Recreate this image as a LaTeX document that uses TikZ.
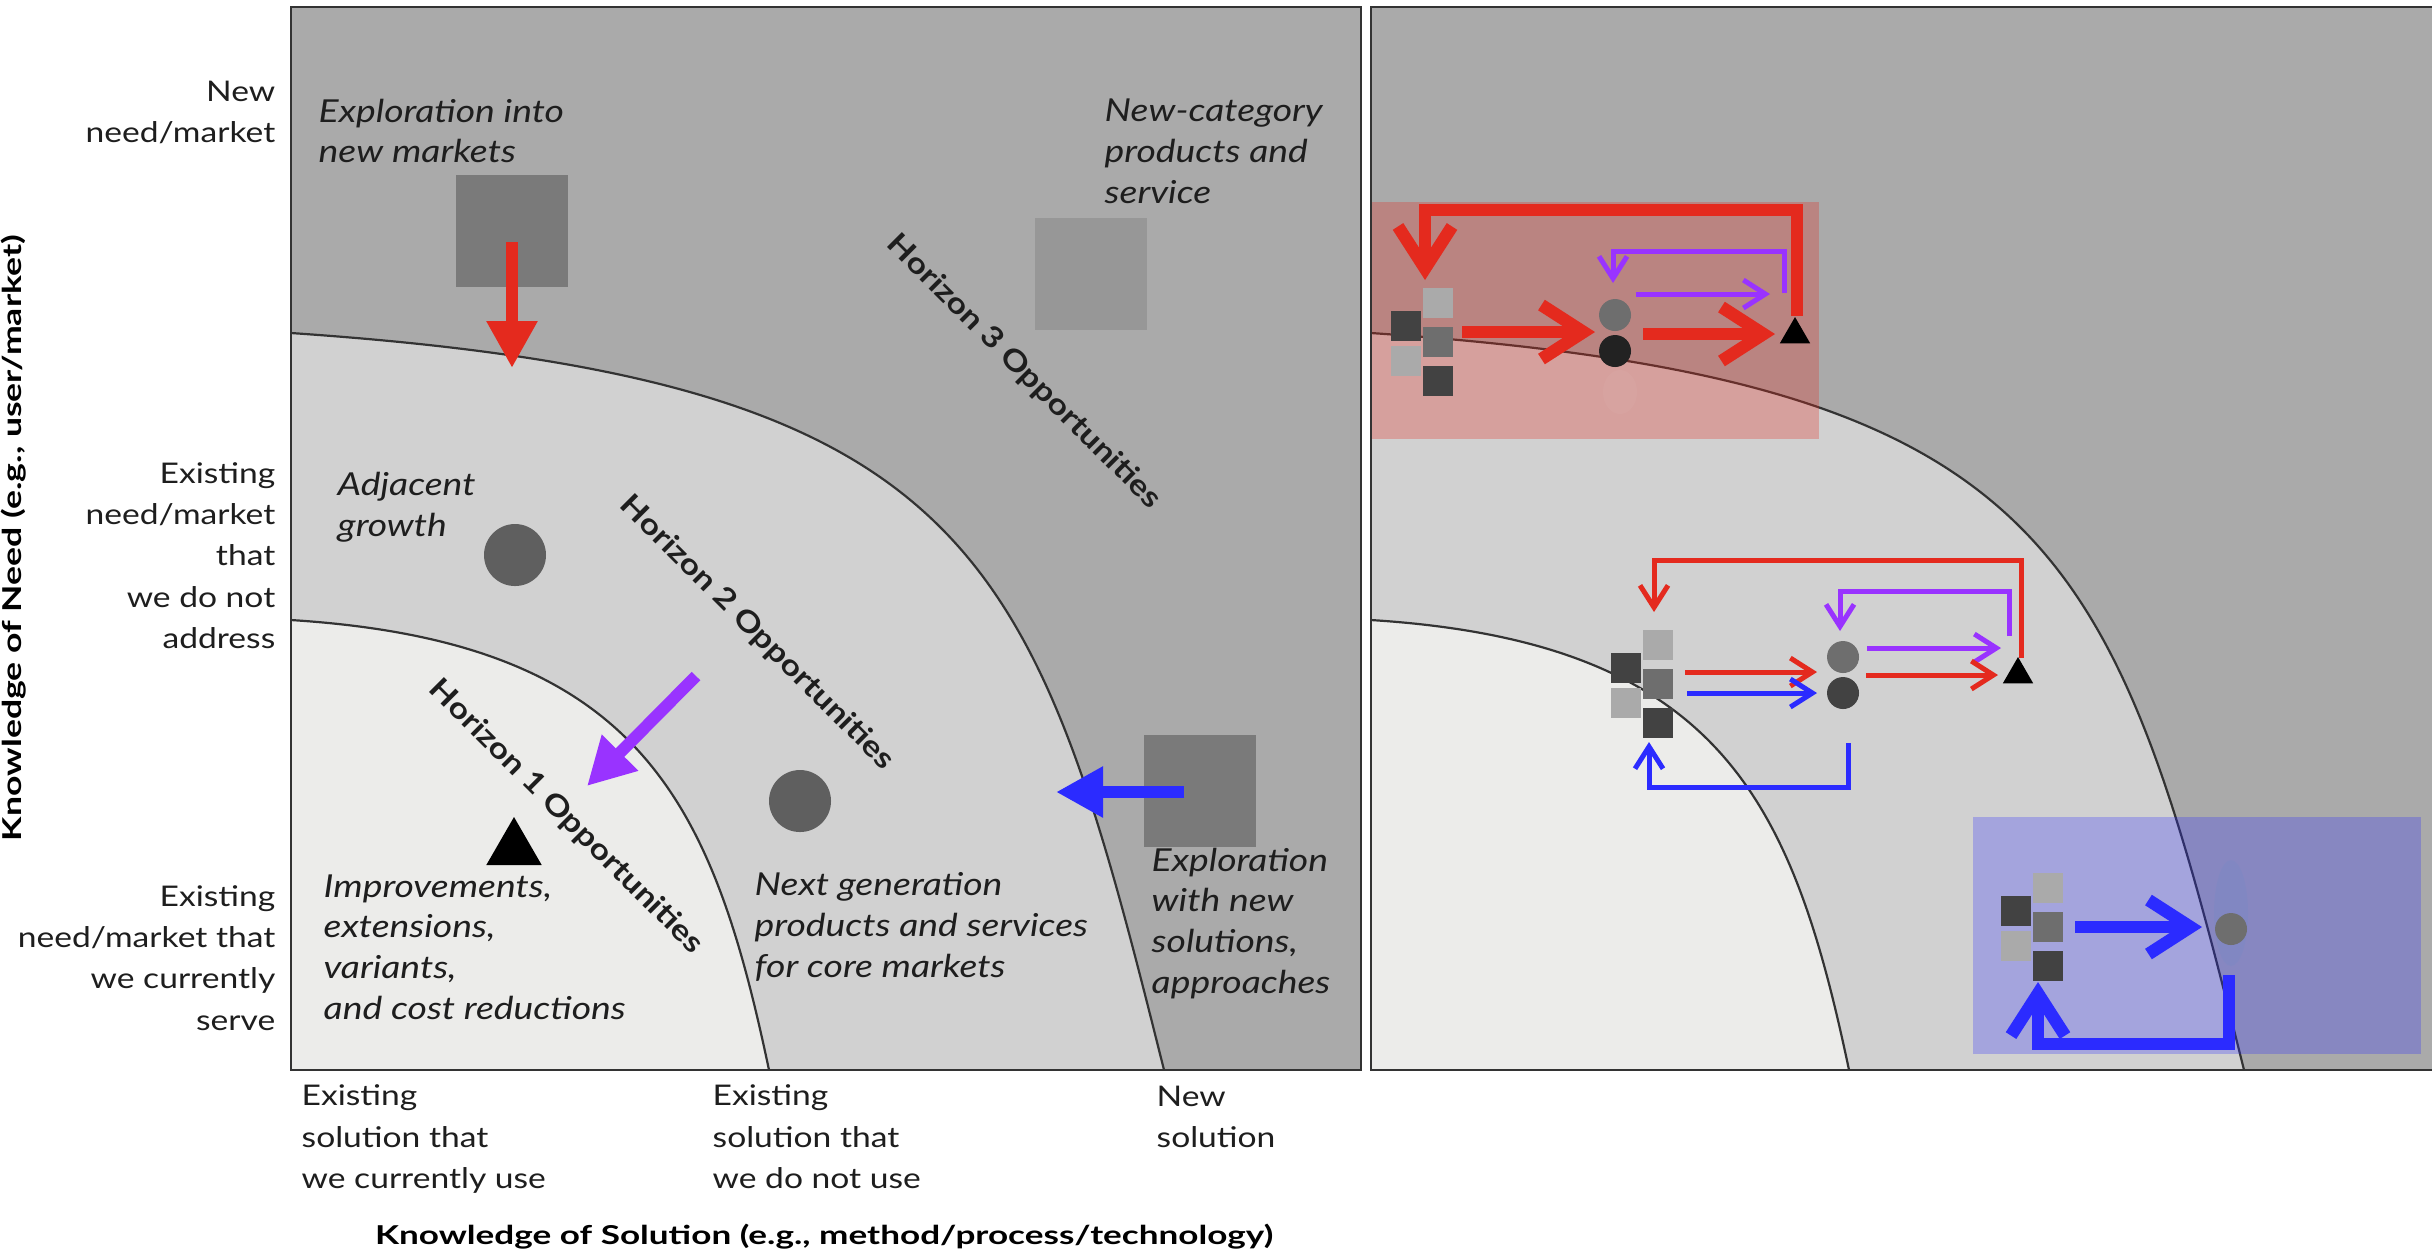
\documentclass[tikz,border=0pt]{standalone}
\usepackage{fontspec}
\setmainfont{Lato}[FakeStretch=1.18]
\usepackage{graphicx}
\usetikzlibrary{arrows.meta,shapes.geometric}
\definecolor{bgdark}{HTML}{AAAAAA}
\definecolor{bgmid}{HTML}{D1D1D1}
\definecolor{bglight}{HTML}{ECECEA}
\definecolor{edge}{HTML}{333333}
\definecolor{sqbig}{HTML}{7A7A7A}
\definecolor{sqpale}{HTML}{979797}
\definecolor{dotgray}{HTML}{5F5F5F}
\definecolor{kdark}{HTML}{424242}
\definecolor{kmid}{HTML}{6E6E6E}
\definecolor{klight}{HTML}{AAAAAA}
\definecolor{kblack}{HTML}{222222}
\definecolor{ared}{HTML}{E42A1E}
\definecolor{apurple}{HTML}{9933FF}
\definecolor{ablue}{HTML}{2B2BFF}
\definecolor{txt}{HTML}{1E1E1E}
\definecolor{ghost}{HTML}{6A8AC8}

\newcommand{\sqcluster}[3]{%
  \node[csq,fill=kdark]  (#1ld) at ({#2+15},{#3+15}) {};
  \node[csq,fill=klight] (#1ll) at ({#2+15},{#3+50}) {};
  \node[csq,fill=klight] (#1rl) at ({#2+46.5},{#3-8}) {};
  \node[csq,fill=kmid]   (#1rm) at ({#2+46.5},{#3+30.5}) {};
  \node[csq,fill=kdark]  (#1rd) at ({#2+46.5},{#3+69.5}) {};
}

\begin{document}
\begin{tikzpicture}[x=0.1mm,y=-0.1mm,
  curveline/.style={draw=edge,line width=0.22mm},
  frame/.style={draw=edge,line width=0.25mm},
  bigsq/.style={rectangle,minimum size=11.2mm,inner sep=0,draw=none},
  csq/.style={rectangle,minimum size=3mm,inner sep=0,draw=none},
  bigdot/.style={circle,minimum size=6.2mm,inner sep=0,draw=none,fill=dotgray},
  dot/.style={circle,minimum size=3.2mm,inner sep=0,draw=none},
  tri/.style={regular polygon,regular polygon sides=3,inner sep=0,draw=none,fill=black},
  fatarrow/.style={line width=1.2mm,-{Triangle[length=4.7mm,width=4.8mm]}},
  bigbarb/.style={line width=1.25mm,-{Straight Barb[length=4.2mm,width=5.4mm]}},
  thinbarb/.style={line width=0.5mm,-{Straight Barb[length=2.2mm,width=2.8mm]}},
  tick/.style={font=\fontsize{8.1}{11.8}\selectfont,text=txt,inner sep=0},
  ital/.style={font=\fontsize{9}{11.6}\selectfont\itshape,text=txt,inner sep=0,align=left,anchor=base west},
  hz/.style={font=\fontsize{8.3}{10}\selectfont\bfseries,text=txt,inner sep=0,rotate=-45},
  axt/.style={font=\fontsize{7.4}{10}\selectfont\bfseries,text=black,inner sep=0}
]
\useasboundingbox (0,0) rectangle (2432,1256);
\fill[white] (0,0) rectangle (2432,1256);

% ---------- left panel ----------
\fill[bgdark] (291,7) rectangle (1361,1070);
\fill[bgmid] (291,333) .. controls (980,380) and (1034,550) .. (1164,1070) -- (291,1070) -- cycle;
\fill[bglight] (291,620) .. controls (640,642) and (712,800) .. (769,1070) -- (291,1070) -- cycle;
\draw[curveline] (291,333) .. controls (980,380) and (1034,550) .. (1164,1070);
\draw[curveline] (291,620) .. controls (640,642) and (712,800) .. (769,1070);
\draw[frame] (291,7) rectangle (1361,1070);

% ---------- right panel ----------
\begin{scope}[shift={(1080,0)}]
\fill[bgdark] (291,7) rectangle (1352,1070);
\fill[bgmid] (291,333) .. controls (980,380) and (1034,550) .. (1164,1070) -- (291,1070) -- cycle;
\fill[bglight] (291,620) .. controls (640,642) and (712,800) .. (769,1070) -- (291,1070) -- cycle;
\draw[curveline] (291,333) .. controls (980,380) and (1034,550) .. (1164,1070);
\draw[curveline] (291,620) .. controls (640,642) and (712,800) .. (769,1070);
\draw[frame] (1352,7) -- (291,7) -- (291,1070) -- (1352,1070);
\end{scope}

% translucent highlight boxes
\fill[ared,opacity=0.29] (1372,202) rectangle (1819,439);
\fill[ablue,opacity=0.27] (1973,817) rectangle (2421,1054);
\fill[white,opacity=0.035] (1620,392) ellipse [x radius=17,y radius=22];
\fill[ghost,opacity=0.18] (2231,913) ellipse [x radius=17,y radius=53];

% ---------- left panel items ----------
\node[bigsq,fill=sqbig]  (sqNM) at (512,231) {};
\node[bigsq,fill=sqpale] (sqNC) at (1091,274) {};
\node[bigsq,fill=sqbig]  (sqES) at (1200,791) {};
\node[bigdot] (dAG) at (515,555) {};
\node[bigdot] (dNG) at (800,801) {};
\node[tri,minimum size=6.4mm] (tIM) at (514,849) {};

\coordinate (rS) at (512,242);
\coordinate (rE) at (512,368);
\draw[fatarrow,ared] (rS) -- (rE);
\coordinate (pS) at (696,676);
\coordinate (pE) at (587,786);
\draw[fatarrow,apurple] (pS) -- (pE);
\coordinate (bS) at (1184,792);
\coordinate (bE) at (1056,792);
\draw[fatarrow,ablue] (bS) -- (bE);

% ---------- left panel texts (anchor = baseline of last line) ----------
\node[ital] (tExpl) at (318,162.8) {Exploration into\\new markets};
\node[ital] (tNewCat) at (1104,203.5) {New-category\\products and\\service};
\node[ital] (tAdj) at (337,536) {Adjacent\\growth};
\node[ital] (tImp) at (323,1019.3) {Improvements,\\extensions,\\variants,\\and cost reductions};
\node[ital] (tNext) at (754,977.5) {Next generation\\products and services\\for core markets};
\node[ital] (tExpS) at (1151,993.3) {Exploration\\with new\\solutions,\\approaches};

\node[hz] (h3) at (1024,372) {Horizon 3 Opportunities};
\node[hz] (h2) at (757,633) {Horizon 2 Opportunities};
\node[hz] (h1) at (566,817) {Horizon 1 Opportunities};

% axis labels
\node[tick,anchor=base east,align=right] (yNew) at (276,142.5) {New\\need/market};
\node[tick,anchor=base east,align=right] (yExA) at (276,648.9) {Existing\\need/market\\that\\we do not\\address};
\node[tick,anchor=base east,align=right] (yExS) at (276,1030.4) {Existing\\need/market that\\we currently\\serve};
\node[tick,anchor=base west,align=left] (xExU) at (301,1188.9) {Existing\\solution that\\we currently use};
\node[tick,anchor=base west,align=left] (xExN) at (712,1188.9) {Existing\\solution that\\we do not use};
\node[tick,anchor=base west,align=left] (xNew) at (1156,1147.5) {New\\solution};
\node[axt,anchor=base] (xTitle) at (824,1244) {\resizebox{89.8mm}{\height}{Knowledge of Solution (e.g., method/process/technology)}};
\node[axt,anchor=base,rotate=90] (yTitle) at (22,538) {\resizebox{60.6mm}{\height}{Knowledge of Need (e.g., user/market)}};

% ---------- right panel: cluster 1 (red box) ----------
\sqcluster{k1}{1391}{311}
\node[dot,fill=kmid]   (c1g) at (1615,315) {};
\node[dot,fill=kblack] (c1d) at (1615,351) {};
\node[tri,minimum size=3.5mm] (t1) at (1795,334.5) {};
\coordinate (r1aS) at (1462,332);
\coordinate (r1aE) at (1595,332);
\draw[bigbarb,ared] (r1aS) -- (r1aE);
\coordinate (r1bS) at (1643,334);
\coordinate (r1bE) at (1775,334);
\draw[bigbarb,ared] (r1bS) -- (r1bE);
\coordinate (p1aS) at (1636,294);
\coordinate (p1aE) at (1770,294);
\draw[thinbarb,apurple] (p1aS) -- (p1aE);
\coordinate (p1rS) at (1784,293);
\coordinate (p1rE) at (1613,283);
\draw[thinbarb,apurple] (p1rS) -- (1784,251) -- (1613,251) -- (p1rE);
\coordinate (r1rS) at (1797,316);
\coordinate (r1rE) at (1425,280);
\draw[bigbarb,ared] (r1rS) -- (1797,210) -- (1425,210) -- (r1rE);

% ---------- right panel: cluster 2 ----------
\sqcluster{k2}{1611}{653}
\node[dot,fill=kmid]  (c2g) at (1843,657) {};
\node[dot,fill=kdark] (c2d) at (1843,693) {};
\node[tri,minimum size=3.5mm] (t2) at (2018,674.5) {};
\coordinate (r2aS) at (1685,672);
\coordinate (r2aE) at (1817,672);
\draw[thinbarb,ared] (r2aS) -- (r2aE);
\coordinate (b2aS) at (1687,693);
\coordinate (b2aE) at (1817,693);
\draw[thinbarb,ablue] (b2aS) -- (b2aE);
\coordinate (p2aS) at (1867,648);
\coordinate (p2aE) at (2001,648);
\draw[thinbarb,apurple] (p2aS) -- (p2aE);
\coordinate (r2bS) at (1866,675);
\coordinate (r2bE) at (1998,675);
\draw[thinbarb,ared] (r2bS) -- (r2bE);
\coordinate (r2rS) at (2021,658);
\coordinate (r2rE) at (1654,612);
\draw[thinbarb,ared] (r2rS) -- (2021,560) -- (1654,560) -- (r2rE);
\coordinate (p2rS) at (2009,636);
\coordinate (p2rE) at (1840,631);
\draw[thinbarb,apurple] (p2rS) -- (2009,591) -- (1840,591) -- (p2rE);
\coordinate (b2rS) at (1848,743);
\coordinate (b2rE) at (1649,742);
\draw[thinbarb,ablue] (b2rS) -- (1848,787) -- (1649,787) -- (b2rE);

% ---------- right panel: cluster 3 (blue box) ----------
\sqcluster{k3}{2001}{896}
\node[dot,fill=kmid] (c3g) at (2231,929) {};
\coordinate (b3aS) at (2075,927);
\coordinate (b3aE) at (2202,927);
\draw[bigbarb,ablue] (b3aS) -- (b3aE);
\coordinate (b3rS) at (2229,975);
\coordinate (b3rE) at (2038,982);
\draw[bigbarb,ablue] (b3rS) -- (2229,1044) -- (2038,1044) -- (b3rE);
\end{tikzpicture}
\end{document}
